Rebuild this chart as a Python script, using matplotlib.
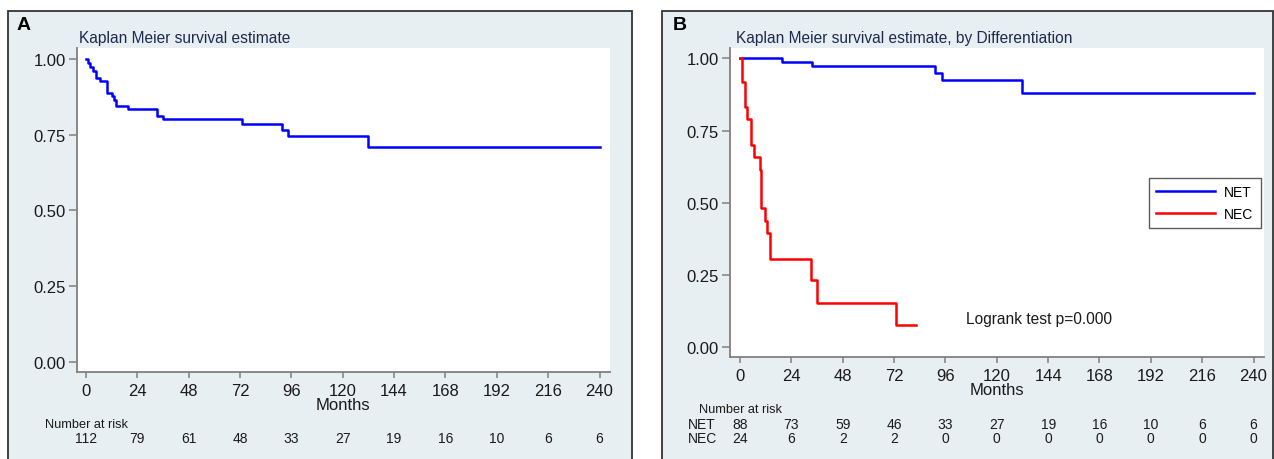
import matplotlib
matplotlib.use("Agg")
import matplotlib.pyplot as plt
import matplotlib.transforms as mtransforms
from matplotlib.patches import Rectangle

plt.rcParams['font.family'] = ['Liberation Sans', 'DejaVu Sans']

# overall KM estimate (panel A)
all_t = [0, 0.9, 1.9, 3.1, 4.7, 6.5, 9.7, 10.0, 12.1, 13.1, 14.2, 19.8, 33.3, 36.1, 73.0, 91.4, 94.4, 132.0, 240]
all_s = [1.0, 0.987, 0.974, 0.961, 0.937, 0.928, 0.908, 0.888, 0.876, 0.865, 0.846, 0.835, 0.813, 0.802, 0.784, 0.766, 0.746, 0.709, 0.709]

# by differentiation (panel B)
net_t = [0, 19.5, 33.5, 91.1, 94.4, 131.9, 240]
net_s = [1.0, 0.988, 0.974, 0.949, 0.924, 0.881, 0.881]
nec_t = [0, 1.1, 2.5, 3.4, 5.0, 6.5, 9.5, 10.0, 11.7, 12.5, 14.2, 33.2, 36.0, 72.9, 82.2]
nec_s = [1.0, 0.917, 0.833, 0.792, 0.702, 0.658, 0.615, 0.483, 0.438, 0.397, 0.307, 0.234, 0.153, 0.078, 0.078]

risk_times = [0, 24, 48, 72, 96, 120, 144, 168, 192, 216, 240]
all_risk = [112, 79, 61, 48, 33, 27, 19, 16, 10, 6, 6]
net_risk = [88, 73, 59, 46, 33, 27, 19, 16, 10, 6, 6]
nec_risk = [24, 6, 2, 2, 0, 0, 0, 0, 0, 0, 0]

W, H = 1274, 460
bg = '#e8eff2'
title_col = '#1c2a4e'
txt = '#1a1a1a'
spine_col = '#808080'

fig = plt.figure(figsize=(W / 100, H / 100), dpi=100)


def px_rect(x0, y0, x1, y1):
    return [x0 / W, 1 - y1 / H, (x1 - x0) / W, (y1 - y0) / H]


# panel backgrounds with frame
for x0, x1 in [(8.3, 631.7), (662.3, 1273)]:
    l, b, w, h = px_rect(x0, 11.7, x1, 470)
    fig.patches.append(Rectangle((l, b), w, h, transform=fig.transFigure, zorder=-5,
                                 facecolor=bg, edgecolor='#333333', linewidth=1.3))


def style_axes(ax, xlim, ylim):
    ax.set_facecolor('white')
    ax.set_xlim(*xlim)
    ax.set_ylim(*ylim)
    ax.set_xticks(risk_times)
    ax.set_yticks([0, 0.25, 0.5, 0.75, 1.0])
    ax.set_yticklabels(['0.00', '0.25', '0.50', '0.75', '1.00'])
    for s in ['top', 'right']:
        ax.spines[s].set_visible(False)
    for s in ['left', 'bottom']:
        ax.spines[s].set_color(spine_col)
        ax.spines[s].set_linewidth(1.3)
    ax.tick_params(axis='both', colors=spine_col, labelcolor=txt, labelsize=12, width=1.1)
    ax.tick_params(axis='y', length=6, pad=2)
    ax.tick_params(axis='x', length=4, pad=4)


# panel A
axA = fig.add_axes(px_rect(77, 49, 610, 372.7))
style_axes(axA, (-4.2, 244.9), (-0.032, 1.036))
axA.step(all_t, all_s, where='post', color='#0000ff', linewidth=1.8)
fig.text(79 / W, 1 - 38 / H, 'Kaplan Meier survival estimate', color=title_col,
         fontsize=11.2, va='center', ha='left')
fig.text(17 / W, 1 - 26 / H, 'A', fontsize=14, fontweight='bold', va='center', ha='left', color='black')
fig.text(343 / W, 1 - 406 / H, 'Months', fontsize=12, ha='center', va='center', color=txt)
trA = mtransforms.blended_transform_factory(axA.transData, fig.transFigure)
fig.text(45 / W, 1 - 425 / H, 'Number at risk', fontsize=9.2, ha='left', va='center', color=txt)
for t, n in zip(risk_times, all_risk):
    axA.text(t, 1 - 439.5 / H, str(n), transform=trA, fontsize=10, ha='center', va='center', color=txt)

# panel B
axB = fig.add_axes(px_rect(730, 49.3, 1264, 357.7))
style_axes(axB, (-4.7, 244.9), (-0.0325, 1.035))
axB.step(net_t, net_s, where='post', color='#0000ff', linewidth=1.8, label='NET')
axB.step(nec_t, nec_s, where='post', color='#ff0000', linewidth=1.8, label='NEC')
leg = axB.legend(loc='upper left', bbox_to_anchor=((1149 - 730) / 534, 1 - (178.7 - 49.3) / 308.4),
                 frameon=True, fancybox=False, edgecolor='#333333', fontsize=10,
                 handlelength=4.2, borderpad=0.52, labelspacing=0.56, handletextpad=0.7,
                 borderaxespad=0)
leg.get_frame().set_linewidth(1.0)
axB.text(105.6, 0.098, 'Logrank test p=0.000', fontsize=11.2, color=txt, va='center', ha='left')
fig.text(736 / W, 1 - 38 / H, 'Kaplan Meier survival estimate, by Differentiation', color=title_col,
         fontsize=11.2, va='center', ha='left')
fig.text(673 / W, 1 - 26 / H, 'B', fontsize=14, fontweight='bold', va='center', ha='left', color='black')
fig.text(997 / W, 1 - 391 / H, 'Months', fontsize=12, ha='center', va='center', color=txt)
trB = mtransforms.blended_transform_factory(axB.transData, fig.transFigure)
fig.text(699 / W, 1 - 410 / H, 'Number at risk', fontsize=9.2, ha='left', va='center', color=txt)
fig.text(688 / W, 1 - 425 / H, 'NET', fontsize=10, ha='left', va='center', color=txt)
fig.text(688 / W, 1 - 439.5 / H, 'NEC', fontsize=10, ha='left', va='center', color=txt)
for t, a, b in zip(risk_times, net_risk, nec_risk):
    axB.text(t, 1 - 425 / H, str(a), transform=trB, fontsize=10, ha='center', va='center', color=txt)
    axB.text(t, 1 - 439.5 / H, str(b), transform=trB, fontsize=10, ha='center', va='center', color=txt)

fig.savefig('out.png', dpi=100, facecolor='white')
